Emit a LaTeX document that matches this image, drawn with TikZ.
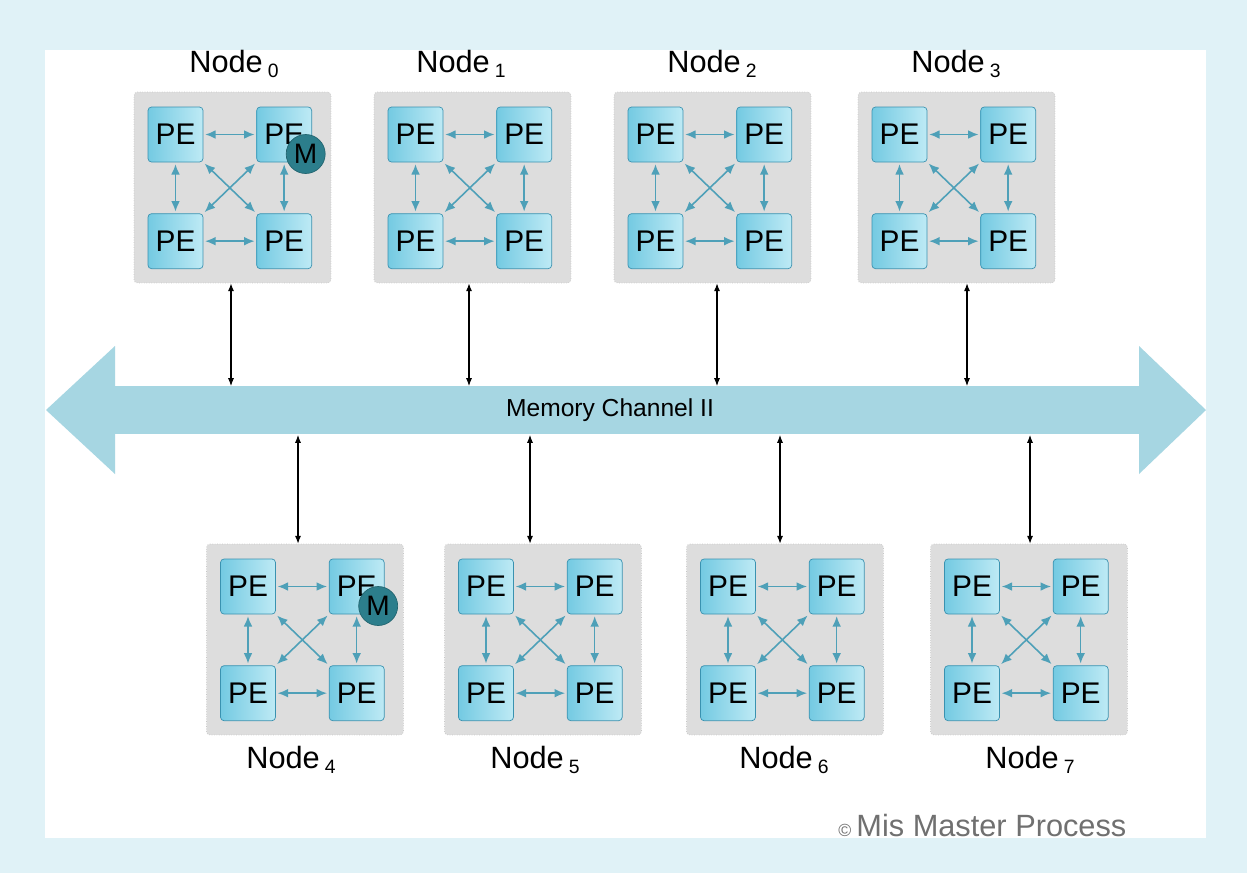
\documentclass[tikz,border=0pt]{standalone}
\usepackage{fontspec}
\setmainfont{Liberation Sans}
\usepackage{tikz}
\usetikzlibrary{positioning}
\usetikzlibrary{calc}
\usetikzlibrary{arrows.meta}
\definecolor{frameblue}{RGB}{224,242,247}
\definecolor{boxgray}{RGB}{221,221,221}
\definecolor{busblue}{RGB}{166,214,226}
\definecolor{pedark}{RGB}{116,202,226}
\definecolor{pelight}{RGB}{190,234,245}
\definecolor{peline}{RGB}{58,146,176}
\definecolor{linkcol}{RGB}{78,160,184}
\definecolor{mfill}{RGB}{44,126,140}
\definecolor{copygray}{RGB}{112,112,112}
\tikzstyle{cluster}=[rectangle,fill=boxgray,draw=boxgray!90!black,densely dotted,rounded corners=2pt,minimum width=3.94cm,minimum height=3.82cm,inner sep=0pt]
\tikzstyle{pe}=[rectangle,draw=peline,solid,rounded corners=2pt,left color=pedark,right color=pelight,minimum size=1.1cm,inner sep=0pt,font=\fontsize{17}{17}\selectfont]
\tikzstyle{mem}=[circle,fill=mfill,draw=mfill!80!black,minimum size=0.78cm,inner sep=0pt,font=\fontsize{16}{16}\selectfont]
\tikzstyle{link}=[linkcol,line width=0.9pt,{Latex[length=6pt,width=5pt]}-{Latex[length=6pt,width=5pt]},shorten <=1pt,shorten >=1pt]
\tikzstyle{tap}=[black,line width=0.6pt,{Latex[length=4.5pt,width=3.5pt]}-{Latex[length=4.5pt,width=3.5pt]}]
\tikzstyle{lbl}=[font=\fontsize{17.5}{17.5}\selectfont,inner sep=0pt]
\newcommand{\lowsub}[1]{\,\raisebox{-0.35ex}{\fontsize{11}{11}\selectfont #1}}

\begin{document}
\begin{tikzpicture}[x=0.02cm,y=-0.02cm]
	% frame
	\fill[frameblue] (0,0) rectangle (1247,873);
	\fill[white] (45,50) rectangle (1206,838);
	\useasboundingbox (0,0) rectangle (1247,873);
	
	% bus
	\node[rectangle,fill=busblue,minimum width=20.7cm,minimum height=0.96cm,inner sep=0pt] (bus) at (627,410) {};
	\fill[busblue] (115,346) -- (46,410) -- (115,474) -- cycle;
	\fill[busblue] (1139,346) -- (1206,410) -- (1139,474) -- cycle;
	\node[font=\fontsize{14}{14}\selectfont] (chan) at (610,410) {Memory Channel II};
	
	% clusters
	\foreach \nm/\bx/\by/\lx/\ly/\k in {n0/232.5/187.5/234/72/0, n1/472.5/187.5/461/72/1, n2/712.5/187.5/712/72/2, n3/956.5/187.5/956/72/3, n4/305/639.5/291/768/4, n5/543/639.5/535/768/5, n6/785/639.5/784/768/6, n7/1029/639.5/1030/768/7} {
		\node[cluster] (\nm) at (\bx,\by) {};
		\node[pe] (\nm-a) at ($(\nm)+(-57,-53)$) {PE};
		\node[pe,right=1.06cm of \nm-a] (\nm-b) {PE};
		\node[pe,below=1.02cm of \nm-a] (\nm-c) {PE};
		\node[pe,below=1.02cm of \nm-b] (\nm-d) {PE};
		\draw[link] (\nm-a) -- (\nm-b);
		\draw[link] (\nm-c) -- (\nm-d);
		\draw[link] (\nm-a) -- (\nm-c);
		\draw[link] (\nm-b) -- (\nm-d);
		\draw[link] (\nm-a.south east) -- (\nm-d.north west);
		\draw[link] (\nm-b.south west) -- (\nm-c.north east);
		\node[lbl,anchor=base] (\nm-lab) at (\lx,\ly) {Node\lowsub{\k}};
	}
	\node[mem] (n0-m) at ($(n0-b)+(21.5,19.5)$) {M};
	\node[mem] (n4-m) at ($(n4-b)+(21.5,19.5)$) {M};
	
	% taps onto the channel
	\foreach \nm/\tx in {n0/231, n1/469, n2/717, n3/967} {
		\coordinate (\nm-t) at (\tx,386);
		\draw[tap] (\nm.south -| \nm-t) -- (\nm-t);
	}
	\foreach \nm/\tx in {n4/298, n5/530, n6/780, n7/1030} {
		\coordinate (\nm-t) at (\tx,435);
		\draw[tap] (\nm-t) -- (\nm.north -| \nm-t);
	}
	
	\node[anchor=base west,text=copygray,font=\fontsize{17.5}{17.5}\selectfont,inner sep=0pt] (copy) at (838,836) {{\fontsize{10}{10}\selectfont\textcopyright}\,Mis Master Process};
\end{tikzpicture}
\end{document}
